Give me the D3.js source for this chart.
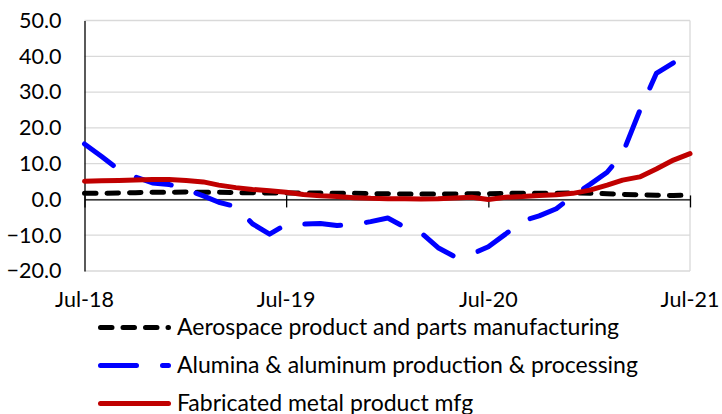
<!DOCTYPE html>
<html>
<head>
<meta charset="utf-8">
<script src="https://cdn.jsdelivr.net/npm/d3@7/dist/d3.min.js"></script>
<style>
  html, body { margin: 0; padding: 0; background: #fff; }
  svg { display: block; font-family: Lato, "Open Sans", sans-serif; }
</style>
</head>
<body>
<svg id="chart" width="722" height="414"></svg>
<script>
// Monthly year-over-year % change, Jul-2018 .. Jul-2021
const startMonth = new Date(2018, 6, 1);
const endMonth = new Date(2021, 6, 1);

const aerospace = [1.7, 1.7, 1.8, 1.9, 2.0, 2.0, 2.1, 2.0, 2.0, 1.9, 1.9, 1.8,
                   1.8, 1.8, 1.8, 1.7, 1.7, 1.6, 1.6, 1.5, 1.5, 1.5, 1.5, 1.6,
                   1.6, 1.7, 1.7, 1.7, 1.7, 1.8, 1.7, 1.6, 1.4, 1.3, 1.2, 1.1, 1.2];

const alumina = [15.5, 12.0, 8.3, 6.3, 4.6, 4.2, 2.8, 1.0, -0.8, -2.0, -6.8, -9.7,
                 -7.0, -6.9, -6.7, -7.3, -7.0, -6.2, -5.2, -7.8, -9.3, -13.5, -16.0, -15.3,
                 -13.2, -9.7, -6.0, -4.6, -2.6, 1.0, 4.2, 7.6, 12.8, 24.8, 35.2, 38.2];

const fabricated = [5.1, 5.2, 5.3, 5.4, 5.6, 5.6, 5.3, 4.9, 4.0, 3.3, 2.8, 2.4,
                    2.0, 1.4, 1.0, 0.8, 0.5, 0.3, 0.2, 0.2, 0.1, 0.2, 0.4, 0.6,
                    0.0, 0.6, 0.8, 1.1, 1.3, 1.7, 2.6, 4.0, 5.4, 6.3, 8.5, 11.0, 12.8];

const yTicks = [-20, -10, 0, 10, 20, 30, 40, 50];
const xTickDates = [new Date(2018, 6, 1), new Date(2019, 6, 1), new Date(2020, 6, 1), new Date(2021, 6, 1)];

const seriesNames = ["Aerospace product and parts manufacturing",
                     "Alumina & aluminum production & processing",
                     "Fabricated metal product mfg"];

const series = [
  { name: seriesNames[0], values: aerospace, color: "#000000", dash: "11.5,11" },
  { name: seriesNames[1], values: alumina, color: "#0000FF", dash: "36,26" },
  { name: seriesNames[2], values: fabricated, color: "#C00000", dash: null }
];

const monthAt = i => d3.timeMonth.offset(startMonth, i);

const svg = d3.select("#chart");
const plotLeft = 84.5, plotRight = 690, plotTop = 20.5, plotBottom = 271;

const x = d3.scaleTime().domain([startMonth, endMonth]).range([plotLeft, plotRight]);
const y = d3.scaleLinear().domain([-20, 50]).range([plotBottom, plotTop]);

// horizontal gridlines
svg.append("g")
  .selectAll("line")
  .data(yTicks)
  .join("line")
  .attr("x1", plotLeft).attr("x2", plotRight)
  .attr("y1", d => y(d)).attr("y2", d => y(d))
  .attr("stroke", "#d9d9d9").attr("stroke-width", 1.3);

// right border of the plot area
svg.append("line")
  .attr("x1", plotRight).attr("x2", plotRight)
  .attr("y1", plotTop).attr("y2", plotBottom)
  .attr("stroke", "#d9d9d9").attr("stroke-width", 1.3);

// y axis labels
const yAxis = d3.axisLeft(y).tickValues(yTicks).tickSize(0).tickPadding(23)
  .tickFormat(d3.format(".1f"));
const gy = svg.append("g").attr("transform", `translate(${plotLeft},0)`).call(yAxis);
gy.select(".domain").attr("stroke", "#000").attr("stroke-width", 1.3);
gy.selectAll("text").attr("font-size", 21.5).attr("fill", "#000")
  .attr("font-family", "Lato, sans-serif");

// x axis line at zero with crossing tick marks
const gx = svg.append("g").attr("transform", `translate(0,${y(0)})`)
  .call(d3.axisBottom(x).tickValues(xTickDates).tickSize(8).tickSizeOuter(0).tickFormat(""));
gx.select(".domain").attr("stroke", "#000").attr("stroke-width", 1.3);
gx.selectAll(".tick line").attr("y1", -4).attr("stroke", "#000").attr("stroke-width", 1.3);

// x tick labels beneath the plot
svg.append("g")
  .selectAll("text")
  .data(xTickDates)
  .join("text")
  .attr("x", d => x(d))
  .attr("y", 307)
  .attr("text-anchor", "middle")
  .attr("font-size", 21.5)
  .attr("fill", "#000")
  .text(d3.timeFormat("%b-%y"));

// series lines (straight segments between monthly points)
const line = d3.line()
  .x((d, i) => x(monthAt(i)))
  .y(d => y(d));

series.forEach(s => {
  svg.append("path")
    .datum(s.values)
    .attr("d", line)
    .attr("fill", "none")
    .attr("stroke", s.color)
    .attr("stroke-width", 5)
    .attr("stroke-linecap", "round")
    .attr("stroke-linejoin", "round")
    .attr("stroke-dasharray", s.dash);
});

// legend
const legendRows = [327.5, 365.5, 403.5];
const lg = svg.append("g");
series.forEach((s, i) => {
  lg.append("line")
    .attr("x1", 100.5).attr("x2", 168.5)
    .attr("y1", legendRows[i]).attr("y2", legendRows[i])
    .attr("stroke", s.color).attr("stroke-width", 5)
    .attr("stroke-linecap", "round")
    .attr("stroke-dasharray", s.dash);
  lg.append("text")
    .attr("x", 177)
    .attr("y", legendRows[i] + 7)
    .attr("font-size", 23)
    .attr("fill", "#000")
    .text(s.name);
});
</script>
</body>
</html>
